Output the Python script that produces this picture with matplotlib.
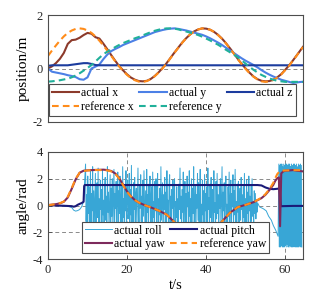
import numpy as np
import matplotlib
matplotlib.use("Agg")
import matplotlib.pyplot as plt

plt.rcParams['font.family'] = ['Liberation Serif', 'DejaVu Serif']
plt.rcParams['axes.unicode_minus'] = False

# ---------------- data: position ----------------
t_pos = np.r_[np.arange(65), 64.5]
act_x = [0.00, 0.08, 0.20, 0.36, 0.58, 0.92, 1.06, 1.08, 1.15, 1.25,
         1.33, 1.30, 1.17, 1.12, 0.93, 0.72, 0.50, 0.29, 0.09, -0.07,
         -0.22, -0.34, -0.42, -0.47, -0.48, -0.46, -0.39, -0.28, -0.14, 0.02,
         0.20, 0.40, 0.60, 0.79, 0.98, 1.14, 1.28, 1.39, 1.46, 1.50,
         1.49, 1.45, 1.37, 1.26, 1.12, 0.95, 0.76, 0.57, 0.36, 0.17,
         0.00, -0.16, -0.30, -0.40, -0.46, -0.48, -0.47, -0.42, -0.33, -0.21,
         -0.05, 0.12, 0.31, 0.51, 0.71, 0.81]
act_y = [0.00, -0.12, -0.15, -0.18, -0.21, -0.25, -0.28, -0.32, -0.40, -0.42,
         -0.33, 0.00, 0.07, 0.15, 0.35, 0.52, 0.65, 0.73, 0.80, 0.88,
         0.94, 1.00, 1.06, 1.12, 1.18, 1.24, 1.30, 1.36, 1.40, 1.44,
         1.47, 1.49, 1.50, 1.48, 1.45, 1.42, 1.38, 1.34, 1.30, 1.26,
         1.20, 1.13, 1.05, 0.97, 0.88, 0.78, 0.68, 0.58, 0.48, 0.38,
         0.29, 0.21, 0.13, 0.04, -0.06, -0.15, -0.23, -0.30, -0.36, -0.42,
         -0.46, -0.50, -0.54, -0.52, -0.50, -0.50]
act_z = [0.10, 0.12, 0.12, 0.12, 0.12, 0.12, 0.14, 0.16, 0.18, 0.20,
         0.20, 0.17, 0.13, 0.12, 0.12, 0.12, 0.12, 0.12, 0.12, 0.12,
         0.12, 0.12, 0.12, 0.12, 0.12, 0.12, 0.12, 0.12, 0.12, 0.12,
         0.12, 0.12, 0.12, 0.12, 0.12, 0.12, 0.12, 0.12, 0.12, 0.12,
         0.12, 0.12, 0.12, 0.12, 0.12, 0.12, 0.12, 0.12, 0.12, 0.12,
         0.12, 0.12, 0.12, 0.12, 0.12, 0.12, 0.12, 0.12, 0.12, 0.12,
         0.12, 0.12, 0.12, 0.12, 0.12, 0.12]
ref_x = [0.47, 0.67, 0.86, 1.04, 1.20, 1.33, 1.42, 1.48, 1.50, 1.48,
         1.42, 1.33, 1.20, 1.04, 0.86, 0.67, 0.47, 0.27, 0.08, -0.09,
         -0.24, -0.36, -0.44, -0.49, -0.50, -0.47, -0.40, -0.29, -0.15, 0.01,
         0.19, 0.39, 0.59, 0.78, 0.97, 1.14, 1.28, 1.39, 1.46, 1.50,
         1.49, 1.45, 1.37, 1.25, 1.11, 0.94, 0.75, 0.56, 0.35, 0.16,
         -0.02, -0.18, -0.31, -0.41, -0.48, -0.50, -0.48, -0.43, -0.34, -0.22,
         -0.06, 0.11, 0.30, 0.50, 0.71, 0.80]
ref_y = [-0.49, -0.48, -0.46, -0.44, -0.41, -0.38, -0.33, -0.26, -0.18, -0.08,
         0.02, 0.13, 0.26, 0.40, 0.53, 0.63, 0.71, 0.80, 0.88, 0.95,
         1.01, 1.07, 1.13, 1.18, 1.24, 1.30, 1.36, 1.41, 1.45, 1.48,
         1.50, 1.50, 1.49, 1.46, 1.42, 1.38, 1.34, 1.30, 1.25, 1.19,
         1.12, 1.05, 0.97, 0.89, 0.80, 0.70, 0.61, 0.52, 0.42, 0.30,
         0.18, 0.06, -0.05, -0.15, -0.24, -0.31, -0.37, -0.42, -0.46, -0.48,
         -0.50, -0.50, -0.50, -0.50, -0.50, -0.50]

# ---------------- data: angles ----------------
yaw_t = [0, 2, 3, 4, 5, 6, 7, 8, 9, 10, 12, 14, 15, 16, 17, 18, 19, 20, 21, 22,
         23, 24, 26, 28, 30, 32, 34, 36, 38, 40, 42, 44, 46, 48, 50, 52, 54, 55,
         56, 57, 57.5, 58, 58.4, 58.7, 59.0, 59.5, 60, 61, 62, 63, 64.5]
act_yaw = [0.03, 0.10, 0.16, 0.28, 0.60, 1.25, 1.95, 2.45, 2.60, 2.63, 2.66, 2.68,
           2.65, 2.58, 2.40, 2.05, 1.55, 1.05, 0.68, 0.40, 0.22, 0.08, -0.14, -0.38,
           -0.68, -1.25, -2.00, -2.60, -2.90, -2.60, -2.00, -1.20, -0.55, -0.12,
           0.05, 0.25, 0.55, 0.80, 1.15, 1.55, 1.85, 2.05, 2.10, -1.55, 2.40, 2.55,
           2.60, 2.62, 2.65, 2.60, 2.55]
ref_yaw_t = [0, 2, 3, 4, 5, 6, 7, 8, 9, 10, 12, 14, 15, 16, 17, 18, 19, 20, 21, 22,
             23, 24, 26, 28, 30, 32, 34, 36, 38, 40, 42, 44, 46, 48, 50, 52, 54, 55,
             56, 57, 57.5, 58, 58.5, 59, 60, 61, 62, 63, 64.5]
ref_yaw = [0.02, 0.10, 0.17, 0.30, 0.65, 1.30, 2.00, 2.45, 2.58, 2.62, 2.65, 2.65,
           2.62, 2.55, 2.38, 2.02, 1.52, 1.02, 0.66, 0.40, 0.22, 0.08, -0.14, -0.38,
           -0.68, -1.25, -2.00, -2.60, -2.90, -2.60, -2.00, -1.20, -0.55, -0.12,
           0.05, 0.25, 0.58, 0.85, 1.22, 1.70, 2.05, 2.35, 2.52, 2.60, 2.62, 2.63,
           2.64, 2.64, 2.64]
pitch_t = [0, 2, 4, 6, 6.5, 7, 7.5, 8, 8.5, 9, 9.15, 9.3, 12, 20, 30, 40, 50, 53,
           54, 55, 56, 57, 58, 58.6, 58.9, 59.2, 62, 64.5]
act_pitch = [0.03, 0.00, -0.02, -0.05, -0.09, -0.05, 0.05, 0.12, 0.18, 0.28, 1.45,
             1.53, 1.53, 1.53, 1.53, 1.53, 1.53, 1.53, 1.50, 1.35, 1.25, 1.22, 1.25,
             1.28, -0.05, -0.05, -0.03, -0.03]
roll_pre_t = [0, 2, 4, 5, 6, 6.5, 7, 7.5, 8, 8.5, 9]
roll_pre = [0.02, 0.00, -0.03, -0.05, -0.15, -0.35, -0.42, -0.38, -0.30, -0.10, 0.30]
roll_noise = [3.1, -1.2, 0.8, -2.5, 2.2, -0.6, 1.4, -2.9, 0.3, 2.7,
              -1.8, 0.9, -0.4, 2.9, -2.2, 1.1, -1.5, 0.6, 2.4, -2.7,
              0.2, 1.7, -0.9, 2.8, -1.4, 0.5, -2.6, 1.9, -0.3, 1.2,
              -2.0, 2.6, -0.7, 0.4, -2.8, 1.5, 2.1, -1.1, 0.7, -2.4,
              2.9, -0.5, 1.0, -1.9, 0.2, 2.3, -2.9, 1.3, -0.8, 2.0,
              -1.6, 0.6, 2.7, -2.3, 0.9, -0.2, 1.8, -2.7, 0.4, 2.5,
              -1.3, 1.1, -0.6, 2.2, -2.5, 0.3, 1.6, -1.7, 2.9, -0.9,
              0.5, -2.2, 1.4, -0.4, 2.6, -2.8, 0.8, 1.9, -1.0, 0.1,
              2.4, -2.6, 1.2, -0.7, 3.0, -1.5, 0.6, -2.1, 1.7, -0.3,
              2.1, -2.9, 0.9, 1.3, -1.8, 0.4, 2.8, -0.6, -2.4, 1.5,
              -0.2, 2.3, -1.2, 0.7, -2.7, 1.9, -0.8, 2.6, 0.2, -2.0,
              1.1, -1.4, 2.7, -0.5, 0.8, -2.3, 1.6, -0.1, 2.2, -2.8,
              0.6, 1.4, -1.6, 2.5, -0.9, 0.3, -2.5, 1.8, -0.4, 2.0,
              -1.9, 0.9, 2.4, -2.6, 0.5, -0.7, 1.3, -2.2, 2.9, -1.1,
              0.2, 1.7, -2.9, 0.8, -0.3, 2.1, -1.7, 1.0, -2.4, 2.6,
              -0.6, 0.4, -2.0, 1.5, 2.3, -1.3, 0.7, -2.7, 1.2, -0.2,
              1.9, -2.1, 0.6, 2.0, -1.5, 0.3, -0.9, 1.4, -1.8, 0.5,
              -2.6, 1.6, -0.3, 2.8, -1.0, 0.7, -2.2, 1.2, -0.5, 2.5,
              -2.8, 0.4, 1.8, -1.4, 0.9, -2.5, 2.2, -0.1, 1.0, -2.9,
              2.6, -0.8, 0.5, -1.7, 2.0, -2.4, 1.3, -0.6, 2.9, -1.9,
              0.3, 1.5, -2.7, 0.8, -0.2, 2.4, -1.1, 1.7, -2.3, 0.6,
              2.7, -1.6, 0.1, -2.8, 1.9, -0.7, 1.1, -2.0, 2.3, -0.4,
              0.9, -2.6, 1.4, -1.2, 2.8, -0.3, 0.6, -2.1, 1.6, -0.9,
              2.1, -2.9, 0.4, 1.2, -1.5, 2.6, -0.5, 0.2, -2.4, 1.8,
              -1.0, 2.4, -0.6, 0.8, -2.7, 1.5, -0.2, 2.0, -1.8, 0.5,
              2.9, -2.2, 1.0, -0.4, 1.7, -2.5, 0.7, 2.2, -1.3, 0.1,
              -2.9, 1.4, -0.8, 2.5, -1.6, 0.4, 1.9, -2.3, 0.9, -0.1,
              2.3, -2.0, 1.1, -0.7, 2.7, -1.4, 0.3, -2.6, 1.6, -0.5,
              1.8, -2.8, 0.6, 1.3, -1.1, 2.1, -0.3, 0.8, -2.2, 1.4,
              -0.9, 2.4, -1.7, 0.5, -2.5, 1.9, -0.6, 1.0, -2.0, 2.2,
              -0.4, 0.7, -1.8, 1.5, -1.2, 2.0, -0.8, 0.3, -1.5, 1.1,
              -0.6, 0.9, -1.0, 0.4, -0.5, 0.2]
roll_noise_span = (9.5, 53.0)
roll_post_t = [53.5, 54.5, 55.2, 55.8, 56.5, 57.0, 57.6, 58.2]
roll_post = [-0.10, -0.25, -0.40, -0.80, -1.10, -1.50, -1.85, -2.30]
roll_band = [3.1, -3.1, 3.0, -3.1, 3.1, -3.0, 3.1, -3.1, 2.9, -3.1,
             3.1, -3.1, 3.0, -3.0, 3.1, -3.1, 3.1, -2.9, 3.0, -3.1,
             3.1, -3.1, 3.1, -3.0, 2.9, -3.1, 3.1, -3.1, 3.0, -3.1,
             3.1, -3.0, 3.1, -3.1, 3.0, -3.1, 3.1, -3.1, 2.9, -3.1,
             3.1, -3.1, 3.0, -3.0, 3.1, -3.1, 3.0, -3.1]
roll_band_span = (58.4, 64.2)

roll_t = np.r_[roll_pre_t,
               np.linspace(roll_noise_span[0], roll_noise_span[1], len(roll_noise)),
               roll_post_t,
               np.linspace(roll_band_span[0], roll_band_span[1], len(roll_band))]
act_roll = np.r_[roll_pre, roll_noise, roll_post, roll_band]

# ---------------- styling ----------------
C_AX = '#8c3a2b'
C_AY = '#4c80e6'
C_AZ = '#1c3c9e'
C_RX = '#ff8c1a'
C_RY = '#20b09a'
C_ROLL = '#38a6d6'
C_PITCH = '#1a1a78'
C_YAW = '#7d2a5c'
C_RYAW = '#ff8c1a'

W, H = 319, 305
fig = plt.figure(figsize=(W / 100, H / 100), dpi=100)
L, Wd = 48 / W, 255 / W
ax1 = fig.add_axes([L, (H - 122) / H, Wd, 107 / H])
ax2 = fig.add_axes([L, (H - 259) / H, Wd, 107 / H])

dash = (3.2, 2.0)
lw = 1.5
h_ax, = ax1.plot(t_pos, act_x, color=C_AX, lw=lw, label='actual x')
h_ay, = ax1.plot(t_pos, act_y, color=C_AY, lw=lw, label='actual y')
h_az, = ax1.plot(t_pos, act_z, color=C_AZ, lw=lw, label='actual z')
h_rx, = ax1.plot(t_pos, ref_x, color=C_RX, lw=lw, ls=(0, dash), label='reference x')
h_ry, = ax1.plot(t_pos, ref_y, color=C_RY, lw=lw, ls=(0, dash), label='reference y')

h_roll, = ax2.plot(roll_t, act_roll, color=C_ROLL, lw=0.7, label='actual roll')
h_pitch, = ax2.plot(pitch_t, act_pitch, color=C_PITCH, lw=lw, label='actual pitch')
h_yaw, = ax2.plot(yaw_t, act_yaw, color=C_YAW, lw=lw, label='actual yaw')
h_ryaw, = ax2.plot(ref_yaw_t, ref_yaw, color=C_RYAW, lw=lw, ls=(0, dash), label='reference yaw')

for ax in (ax1, ax2):
    ax.set_xlim(0, 64.5)
    for s in ax.spines.values():
        s.set_color('#4d4d4d')
        s.set_linewidth(0.8)
    ax.tick_params(direction='in', length=3, width=0.6, colors='#4d4d4d',
                   labelcolor='#262626', labelsize=9, top=False, right=False)
    ax.set_axisbelow(True)

ax1.set_ylim(-2, 2)
ax1.set_yticks([-2, 0, 2])
ax1.set_xticks([])
ax1.grid(axis='y', color='#8a8a8a', ls=(0, (4, 3)), lw=0.7)
ax1.set_ylabel('position/m', fontsize=11, labelpad=2)

ax2.set_ylim(-4, 4)
ax2.set_yticks([-4, -2, 0, 2, 4])
ax2.set_xticks([0, 20, 40, 60])
ax2.grid(color='#8a8a8a', ls=(0, (4, 3)), lw=0.7)
ax2.set_ylabel('angle/rad', fontsize=11, labelpad=2)
ax2.set_xlabel('t/s', fontsize=10.5, labelpad=2)

leg_kw = dict(fontsize=8.5, frameon=True, fancybox=False, framealpha=1,
              edgecolor='#4d4d4d', handlelength=2.3, handletextpad=0.2,
              columnspacing=0.45, labelspacing=0.15, borderpad=0.25,
              borderaxespad=0)
leg1 = ax1.legend([h_ax, h_rx, h_ay, h_ry, h_az],
                  ['actual x', 'reference x', 'actual y', 'reference y', 'actual z'],
                  ncol=3, loc='lower left', bbox_to_anchor=(0.004, 0.056), **leg_kw)
leg2 = ax2.legend([h_roll, h_yaw, h_pitch, h_ryaw],
                  ['actual roll', 'actual yaw', 'actual pitch', 'reference yaw'],
                  ncol=2, loc='lower left', bbox_to_anchor=(0.132, 0.053), **leg_kw)
for leg in (leg1, leg2):
    leg.get_frame().set_linewidth(0.8)

fig.savefig('out.png', dpi=100)
